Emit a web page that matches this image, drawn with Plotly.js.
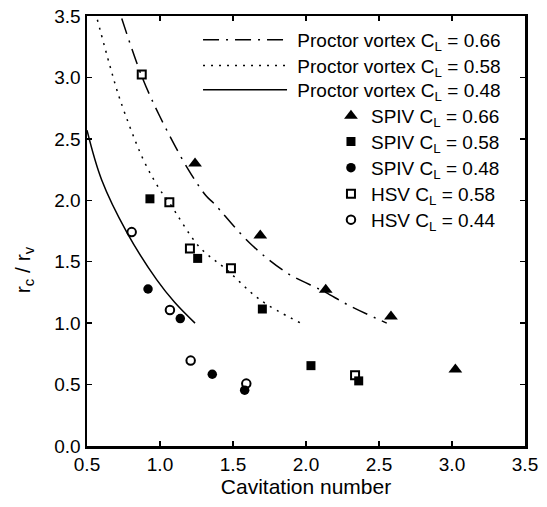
<!DOCTYPE html>
<html>
<head>
<meta charset="utf-8">
<script src="https://cdn.plot.ly/plotly-3.0.1.min.js"></script>
<style>html,body{margin:0;padding:0;background:#fff;}#chart{width:547px;height:507px;}</style>
</head>
<body>
<div id="chart"></div>
<script>
// Proctor vortex curves
const proc066_x = [0.738, 0.875, 1.0, 1.194, 1.32, 1.365, 1.616, 1.868, 2.119, 2.301, 2.553];
const proc066_y = [3.48, 3.01, 2.68, 2.25, 2.03, 1.98, 1.65, 1.41, 1.26, 1.14, 1.0];
const proc058_x = [0.571, 0.658, 0.726, 0.886, 1.0, 1.064, 1.27, 1.457, 1.685, 1.964];
const proc058_y = [3.47, 3.09, 2.82, 2.33, 2.085, 1.98, 1.62, 1.435, 1.19, 1.0];
const proc048_x = [0.5, 0.6, 0.772, 0.977, 1.1, 1.24];
const proc048_y = [2.57, 2.167, 1.741, 1.354, 1.17, 1.0];
// SPIV measurements
const spiv066_x = [1.24, 1.687, 2.135, 2.582, 3.023];
const spiv066_y = [2.30, 1.714, 1.272, 1.055, 0.622];
const spiv058_x = [0.931, 1.258, 1.701, 2.034, 2.361];
const spiv058_y = [2.012, 1.527, 1.115, 0.654, 0.530];
const spiv048_x = [0.918, 1.139, 1.358, 1.580];
const spiv048_y = [1.278, 1.037, 0.584, 0.454];
// HSV measurements
const hsv058_x = [0.875, 1.064, 1.205, 1.486, 2.336];
const hsv058_y = [3.023, 1.985, 1.608, 1.446, 0.576];
const hsv044_x = [0.806, 1.068, 1.210, 1.591];
const hsv044_y = [1.741, 1.107, 0.695, 0.508];

const xTitle = 'Cavitation number';
const yTitle = 'r<sub>c</sub> / r<sub>v</sub>';

const NB = '\u00A0';
const names = [
  NB + 'Proctor vortex C<sub>L</sub> = 0.66',
  NB + 'Proctor vortex C<sub>L</sub> = 0.58',
  NB + 'Proctor vortex C<sub>L</sub> = 0.48',
  'SPIV C<sub>L</sub> = 0.66',
  'SPIV C<sub>L</sub> = 0.58',
  'SPIV C<sub>L</sub> = 0.48',
  'HSV C<sub>L</sub> = 0.58',
  'HSV C<sub>L</sub> = 0.44'
];
const legIds = ['legend', 'legend2', 'legend3', 'legend4', 'legend5', 'legend6', 'legend7', 'legend8'];

const traces = [
  {x: proc066_x, y: proc066_y, mode: 'lines', name: names[0], line: {color: '#000', width: 1.5, dash: '16px,7px,2px,7px', shape: 'spline'}},
  {x: proc058_x, y: proc058_y, mode: 'lines', name: names[1], line: {color: '#000', width: 1.5, dash: '2px,6px', shape: 'spline'}},
  {x: proc048_x, y: proc048_y, mode: 'lines', name: names[2], line: {color: '#000', width: 1.5, shape: 'spline'}},
  {x: spiv066_x, y: spiv066_y, mode: 'markers', name: names[3], marker: {symbol: 'triangle-up', size: 12, color: '#000'}},
  {x: spiv058_x, y: spiv058_y, mode: 'markers', name: names[4], marker: {symbol: 'square', size: 9, color: '#000'}},
  {x: spiv048_x, y: spiv048_y, mode: 'markers', name: names[5], marker: {symbol: 'circle', size: 9.5, color: '#000'}},
  {x: hsv058_x, y: hsv058_y, mode: 'markers', name: names[6], marker: {symbol: 'square-open', size: 8, color: '#000', line: {width: 2}}},
  {x: hsv044_x, y: hsv044_y, mode: 'markers', name: names[7], marker: {symbol: 'circle-open', size: 8.5, color: '#000', line: {width: 2}}}
];
traces.forEach((t, i) => { t.legend = legIds[i]; });

const font = {family: '"Liberation Sans", Arial, Helvetica, sans-serif', color: '#000'};

const layout = {
  width: 547, height: 507,
  margin: {l: 87, r: 22, t: 16, b: 61},
  paper_bgcolor: '#fff', plot_bgcolor: '#fff',
  font: Object.assign({size: 19}, font),
  showlegend: true,
  xaxis: {
    range: [0.5, 3.5], dtick: 0.5, tick0: 0.5, tickformat: '.1f',
    ticks: 'inside', ticklen: 5, tickwidth: 1.5, tickcolor: '#000',
    showline: true, linewidth: 2.5, linecolor: '#000', mirror: 'ticks',
    showgrid: false, zeroline: false,
    tickfont: Object.assign({size: 19}, font),
    title: {text: xTitle, font: Object.assign({size: 21}, font), standoff: 5}
  },
  yaxis: {
    range: [0, 3.5], dtick: 0.5, tick0: 0, tickformat: '.1f',
    ticks: 'inside', ticklen: 5, tickwidth: 1.5, tickcolor: '#000',
    showline: true, linewidth: 2.5, linecolor: '#000', mirror: 'ticks',
    showgrid: false, zeroline: false,
    tickfont: Object.assign({size: 19}, font)
  },
  annotations: [{
    text: yTitle, textangle: -90, showarrow: false,
    xref: 'paper', yref: 'paper', x: -0.145, y: 0.41,
    xanchor: 'center', yanchor: 'middle',
    font: Object.assign({size: 21}, font)
  }]
};

// row centres (paper units) and left positions for the eight single-entry legends
const rowY = [0.9443, 0.8846, 0.8281, 0.7677, 0.7080, 0.6469, 0.5865, 0.5261];
legIds.forEach((id, i) => {
  const isLine = i < 3;
  layout[id] = {
    x: isLine ? 0.2535 : 0.557, y: rowY[i], xanchor: 'left', yanchor: 'middle',
    bgcolor: 'rgba(0,0,0,0)', borderwidth: 0,
    itemwidth: isLine ? 84 : 30,
    font: Object.assign({size: 19}, font)
  };
});

Plotly.newPlot('chart', traces, layout, {displayModeBar: false, staticPlot: true});
</script>
</body>
</html>
